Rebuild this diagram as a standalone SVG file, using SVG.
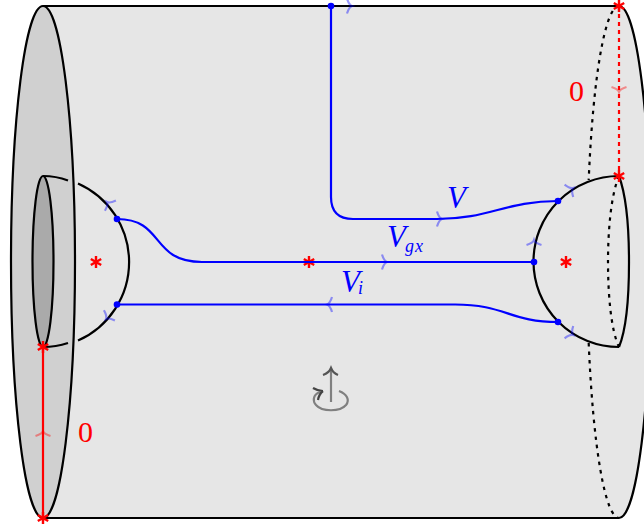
<svg xmlns="http://www.w3.org/2000/svg" width="644" height="529" viewBox="0 0 644 529">
<style>
.k{fill:none;stroke:#000;stroke-width:2.2}
.d{fill:none;stroke:#000;stroke-width:2.2;stroke-dasharray:3.500 5}
.b{fill:none;stroke:#00f;stroke-width:2.2}
.r{fill:none;stroke:#f00;stroke-width:2.2}
.ab{fill:none;stroke:#00f;stroke-width:2.2;stroke-opacity:.4}
.ar{fill:none;stroke:#f00;stroke-width:2.2;stroke-opacity:.4}
.st{fill:none;stroke:#f00;stroke-width:2.4}
.dot{fill:#00f}
.tb{font-family:"Liberation Serif",serif;font-style:italic;fill:#00f}
.tr{font-family:"Liberation Serif",serif;fill:#f00}
</style>
<defs>
<path id="ah" d="M-5 -7.5Q-3 -1 0 0Q-3 1 -5 7.5"/>
<path id="star" d="M0 -6V6M-5.200 -3L5.200 3M-5.200 3L5.200 -3"/>
</defs>
<g id="cylinder">
<path d="M43 6H619A32 256 0 0 1 619 518H43Z" fill="#e6e6e6"/>
<ellipse cx="43" cy="262" rx="32" ry="256" fill="#d0d0d0" stroke="#000" stroke-width="2.2"/>
<ellipse cx="43" cy="261.500" rx="10.500" ry="85.500" fill="#aaa" stroke="#000" stroke-width="2.2"/>
<path class="k" d="M43 6H619A32 256 0 0 1 619 518H43"/>
<path class="d" d="M619 6A32 256 0 0 0 588.700 180M588.700 343A32 256 0 0 0 619 518"/>
</g>
<g id="left-disc">
<path class="k" d="M43 176Q56 176 68 180.500M78 183.400A86 86 0 0 1 78 340.600M68 343Q56 347 43 347"/>
</g>
<g id="right-disc">
<path class="k" d="M619 176A85.500 85.500 0 0 0 619 347"/>
<path class="k" d="M619 176C626 195 629 230 629 262C629 295 626 330 619 347"/>
<path class="d" d="M619 176C611 195 608 230 608 262C608 295 611 330 619 347"/>
</g>
<use href="#star" class="st" transform="translate(309 262)"/>
<g id="connectors">
<path class="b" d="M331 6V197Q331 219 353 219H437C490 219 505 201 558 201"/>
<path class="b" d="M117 219C165 219 150 262 202 262H534"/>
<path class="b" d="M117 304.500H455C505 304.500 510 322 558 322"/>
<path class="r" d="M43 347V518"/>
<path class="r" d="M619 6V176" stroke-dasharray="4 4"/>
</g>
<g id="nodes">
<circle class="dot" cx="331" cy="6" r="3.300"/>
<circle class="dot" cx="117" cy="219" r="3.300"/>
<circle class="dot" cx="117" cy="304.500" r="3.300"/>
<circle class="dot" cx="534" cy="262" r="3.300"/>
<circle class="dot" cx="558" cy="201" r="3.300"/>
<circle class="dot" cx="558" cy="322" r="3.300"/>
</g>
<g id="arrows">
<use href="#ah" class="ab" transform="translate(352 6)"/>
<use href="#ah" class="ab" transform="translate(442 219)"/>
<use href="#ah" class="ab" transform="translate(387 262)"/>
<use href="#ah" class="ab" transform="translate(327 304.500) rotate(180)"/>
<use href="#ah" class="ab" transform="translate(107 202) rotate(-133)"/>
<use href="#ah" class="ab" transform="translate(106 319) rotate(133)"/>
<use href="#ah" class="ab" transform="translate(534 240) rotate(-90)"/>
<use href="#ah" class="ab" transform="translate(573 188) rotate(-35)"/>
<use href="#ah" class="ab" transform="translate(573 335) rotate(35)"/>
<use href="#ah" class="ar" transform="translate(619 92) rotate(90)"/>
<use href="#ah" class="ar" transform="translate(43 431) rotate(-90)"/>
</g>
<g id="stars">
<use href="#star" class="st" transform="translate(43 347)"/>
<use href="#star" class="st" transform="translate(43 518)"/>
<use href="#star" class="st" transform="translate(619 6)"/>
<use href="#star" class="st" transform="translate(619 176)"/>
<use href="#star" class="st" transform="translate(96 262)"/>
<use href="#star" class="st" transform="translate(566 262)"/>
</g>
<g id="labels">
<text class="tb" x="447" y="208" font-size="31">V</text>
<text class="tb" x="387" y="247" font-size="31">V</text>
<text class="tb" x="405" y="252" font-size="18">g</text>
<text class="tb" x="415" y="252" font-size="18">x</text>
<text class="tb" x="341" y="292" font-size="31">V</text>
<text class="tb" x="358" y="294" font-size="18">i</text>
<text class="tr" x="569" y="101" font-size="30">0</text>
<text class="tr" x="78" y="442" font-size="30">0</text>
</g>
<g id="rotation" fill="none" stroke="#808080" stroke-width="2.2">
<path d="M331 402V369"/>
<path d="M323 375Q329 373 331 368Q333 373 338 375" stroke="#555"/>
<path d="M320 392C312 395 313 402 316 405C322 412 340 412 346 405C350 400 347 394 339 391"/>
<path d="M313 388Q318 391 323 391M318 400Q319 394 323 391" stroke="#444"/>
</g>
</svg>
